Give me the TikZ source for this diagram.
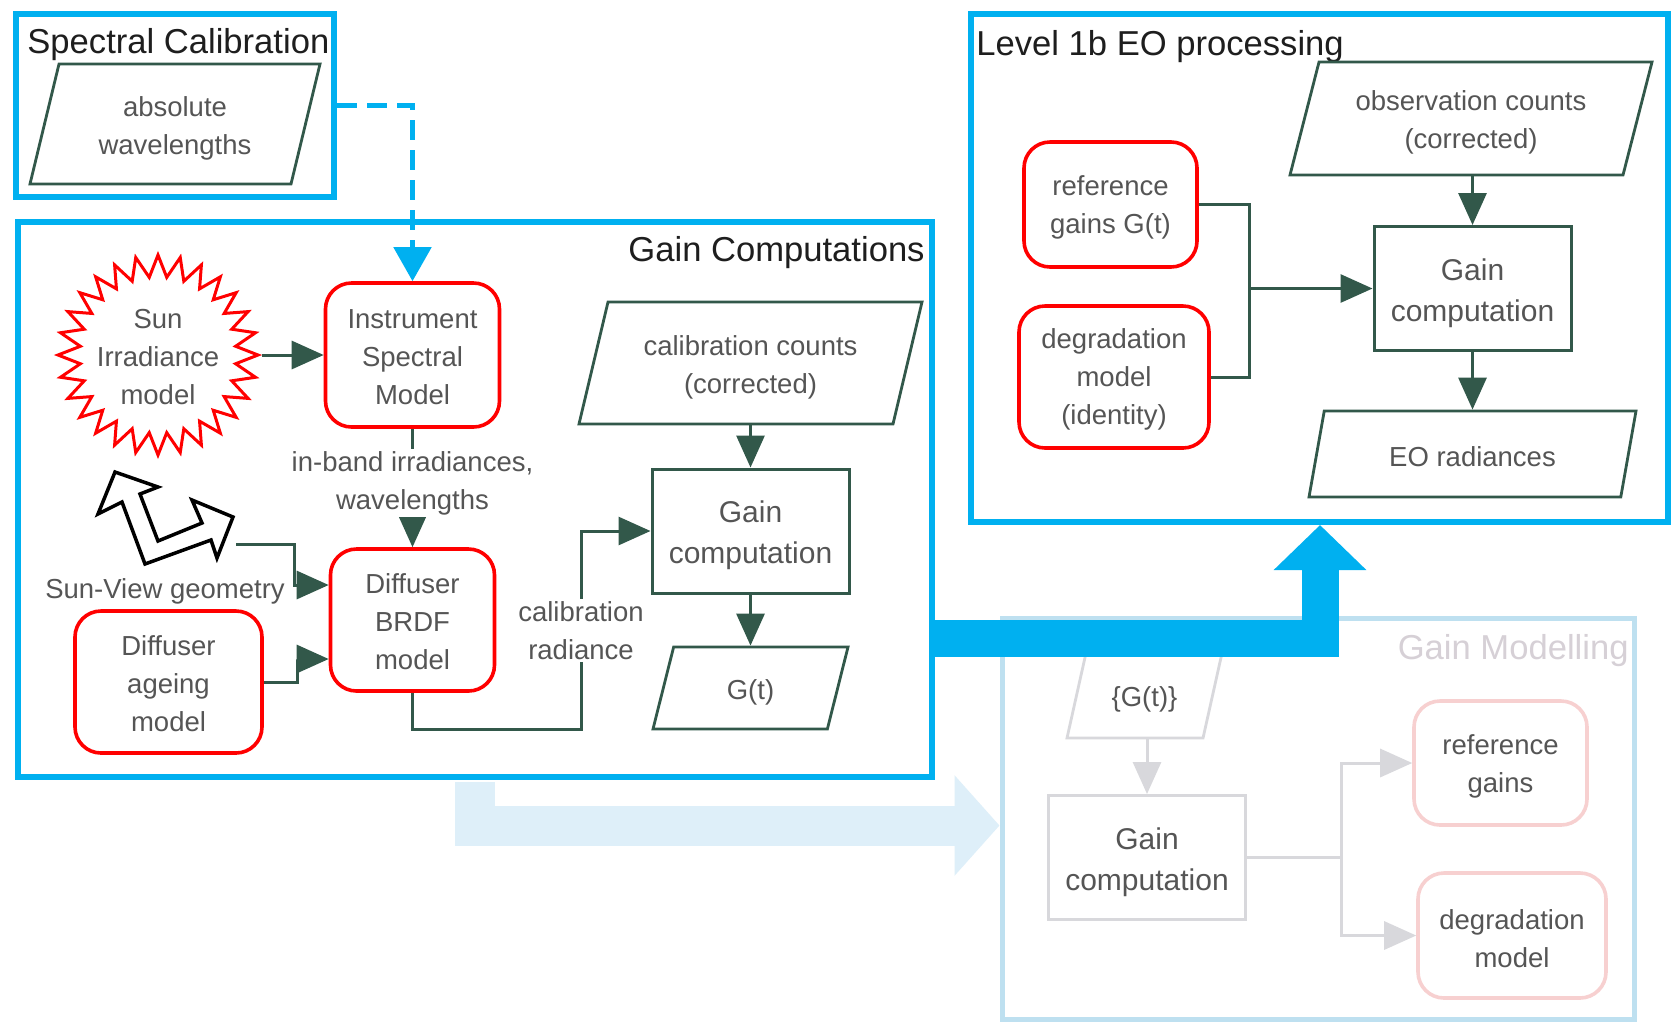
\documentclass[tikz,border=0pt]{standalone}
\usepackage{fontspec}
\setmainfont{Liberation Sans}
\usepackage{tikz}
\usetikzlibrary{shapes.geometric, arrows.meta, calc}
\definecolor{framecyan}{RGB}{0,176,240}
\definecolor{linegreen}{RGB}{50,88,74}
\definecolor{boxred}{RGB}{255,0,0}
\definecolor{textgray}{RGB}{85,85,85}
\definecolor{titleblack}{RGB}{30,30,30}
\definecolor{paleblue}{RGB}{190,224,240}
\definecolor{palegray}{RGB}{216,216,220}
\definecolor{palered}{RGB}{247,208,208}
\definecolor{paletitle}{RGB}{214,208,214}
\definecolor{palefill}{RGB}{222,239,249}

\begin{document}
\begin{tikzpicture}[
  x=0.5pt, y=-0.5pt,
  textdrop/.style={execute at begin node={\rule{0pt}{#1}}},
  frame/.style={draw=framecyan, line width=3pt, inner sep=0pt},
  paleframe/.style={draw=paleblue, line width=2.5pt, inner sep=0pt},
  title/.style={font=\fontsize{17.3}{20}\selectfont, text=titleblack, inner sep=0pt},
  plain/.style={align=center, text=textgray, font=\fontsize{13.75}{19}\selectfont},
  midlabel/.style={plain, fill=white, inner sep=1pt},
  model/.style={draw=boxred, line width=1.8pt, rounded corners=13pt,
                align=center, text=textgray, font=\fontsize{13.75}{19}\selectfont},
  palemodel/.style={model, draw=palered},
  gainbox/.style={draw=linegreen, line width=1.5pt, align=center, text=textgray,
                  font=\fontsize{15}{20.5}\selectfont, textdrop=35.9pt,
                  minimum width=98.5pt, minimum height=62pt},
  palegain/.style={gainbox, draw=palegray},
  data/.style={trapezium, trapezium left angle=70, trapezium right angle=110,
               trapezium stretches body, draw=linegreen, line width=1.4pt,
               align=center, text=textgray, inner sep=2pt,
               font=\fontsize{13.75}{19}\selectfont},
  paledata/.style={data, draw=palegray},
  sun/.style={star, star points=28, star point ratio=1.28, minimum size=100pt,
              inner sep=0pt, draw=boxred, line width=1.5pt},
  arrow/.style={draw=linegreen, line width=1.5pt, -{Triangle[length=16pt,width=14pt]}},
  line/.style={draw=linegreen, line width=1.5pt},
  palearrow/.style={draw=palegray, line width=1.5pt, -{Triangle[length=16pt,width=14pt]}},
  paleline/.style={draw=palegray, line width=1.5pt},
  dasharrow/.style={draw=framecyan, line width=2.5pt, dash pattern=on 10pt off 5pt,
                    -{Triangle[length=17pt,width=18.5pt]}},
  bigarrow/.style={draw=framecyan, line width=18.5pt,
                   -{Triangle[length=22.5pt,width=45pt]}},
  palebig/.style={draw=palefill, line width=20pt,
                  -{Triangle[length=22.5pt,width=49pt]}},
  svarrow/.style={draw=black, fill=white, line width=1.75pt, line join=miter},
]
\fill[white] (0,0) rectangle (1673,1024);
\useasboundingbox (0,0) rectangle (1673,1024);

%% frames
\node[frame, minimum width=159pt, minimum height=91.5pt] (specbox) at (175,105.5) {};
\node[frame, minimum width=457pt, minimum height=277.5pt] (gcbox) at (475,499.5) {};
\node[frame, minimum width=348.5pt, minimum height=254pt] (l1box) at (1319.5,268) {};
\node[paleframe, minimum width=316pt, minimum height=200.5pt] (gmbox) at (1318,818.5) {};

\node[title, anchor=west] (spectitle) at (27,45) {Spectral Calibration};
\node[title, anchor=east] (gctitle) at (925,253) {Gain Computations};
\node[title, anchor=west] (l1title) at (976,47) {Level 1b EO processing};
\node[title, text=paletitle, anchor=east] (gmtitle) at (1629,651) {Gain Modelling};

%% Gain Modelling (pale)
\node[paledata, trapezium left angle=65, trapezium right angle=115, textdrop=13.5pt,
      minimum width=77.5pt, minimum height=42.5pt] (gset) at (1144.5,695.5) {\{G(t)\}};
\node[palegain] (gainc) at (1147,857.5) {Gain\\computation};
\node[palemodel, textdrop=32.2pt, minimum width=86.5pt, minimum height=62pt] (prefg) at (1500.5,763) {reference\\gains};
\node[palemodel, textdrop=32.2pt, minimum width=94pt, minimum height=62.5pt] (pdegr) at (1512,935.5) {degradation\\model};
\coordinate (pjoin) at (1341,857.5);
\draw[paleline] (gainc.east) -- (pjoin);
\draw[palearrow] (pjoin) |- (prefg.west);
\draw[palearrow] (pjoin) |- (pdegr.west);
\draw[palearrow] (gset.south -| gainc.north) -- (gainc.north);

%% block arrows
\coordinate (modstart) at (475,782);
\draw[palebig] (modstart) |- ($(gmbox.west)+(0,7)$);
\coordinate (bigturn) at (1320,638.5);
\draw[bigarrow] (bigturn -| gcbox.east) -| (bigturn |- l1box.south);

%% Spectral calibration
\node[data, textdrop=33pt, minimum width=145pt, minimum height=60pt] (abswl) at (175,124) {absolute\\wavelengths};

%% Gain computations
\node[sun] (sun) at (158,355) {};
\node[plain] (suntext) at (158,357) {Sun\\Irradiance\\model};
\node[model, textdrop=50.1pt, minimum width=87pt, minimum height=72pt] (ism) at (412.5,355) {Instrument\\Spectral\\Model};
\node[model, textdrop=50.1pt, minimum width=82pt, minimum height=71pt] (brdf) at (412.5,620) {Diffuser\\BRDF\\model};
\node[model, textdrop=50.1pt, minimum width=93.5pt, minimum height=71pt] (ageing) at (168.5,682) {Diffuser\\ageing\\model};
\node[plain] (svlabel) at (165,591) {Sun-View geometry};
\draw[svarrow] (115,472) -- (158,487) -- (140,494) -- (158,541) -- (202,523)
  -- (192,500) -- (233,517) -- (217,558) -- (211,540) -- (145,564)
  -- (122,502) -- (98,514) -- cycle;
\coordinate (svg) at (236,544);

\node[data, textdrop=33pt, minimum width=171.5pt, minimum height=61pt] (calib) at (750.5,363) {calibration counts\\(corrected)};
\node[gainbox] (gaina) at (750.5,531) {Gain\\computation};
\node[data, trapezium left angle=64, trapezium right angle=116, textdrop=14.3pt,
      minimum width=97.5pt, minimum height=41pt] (gt) at (750.5,688) {G(t)};
\coordinate (crad) at (581,531);

\draw[dasharrow] (specbox.east) -| (ism.north);
\draw[arrow] (sun.east) -- (ism.west);
\draw[arrow] (ism.south) -- node[midlabel, pos=0.46] {in-band irradiances,\\wavelengths} (brdf.north);
\draw[arrow] (svg) -- ++(58,0) |- ($(brdf.west)+(0,-35)$);
\draw[arrow] (ageing.east) -- ++(34,0) |- ($(brdf.west)+(0,39)$);
\draw[arrow] (brdf.south) -- ++(0,37) -| node[midlabel, pos=0.75] {calibration\\radiance} (crad) -- (gaina.west);
\draw[arrow] (calib.south -| gaina.north) -- (gaina.north);
\draw[arrow] (gaina.south) -- (gaina.south |- gt.north);

%% Level 1b EO processing
\node[data, textdrop=33pt, minimum width=181pt, minimum height=56.5pt] (obs) at (1471,118.5) {observation counts\\(corrected)};
\node[model, textdrop=32.2pt, minimum width=86.5pt, minimum height=62.5pt] (refg) at (1110.5,204.5) {reference\\gains G(t)};
\node[model, textdrop=50.1pt, minimum width=95pt, minimum height=71pt] (degr) at (1114,377) {degradation\\model\\(identity)};
\node[gainbox] (gainb) at (1472.5,288.5) {Gain\\computation};
\node[data, trapezium left angle=65, trapezium right angle=115, textdrop=12.2pt,
      minimum width=163.5pt, minimum height=43pt] (eorad) at (1472.5,454) {EO radiances};
\coordinate (join) at (1249,288.5);
\draw[line] (refg.east) -| (join) |- (degr.east);
\draw[arrow] (join) -- (gainb.west);
\draw[arrow] (obs.south -| gainb.north) -- (gainb.north);
\draw[arrow] (gainb.south) -- (gainb.south |- eorad.north);

\end{tikzpicture}
\end{document}
